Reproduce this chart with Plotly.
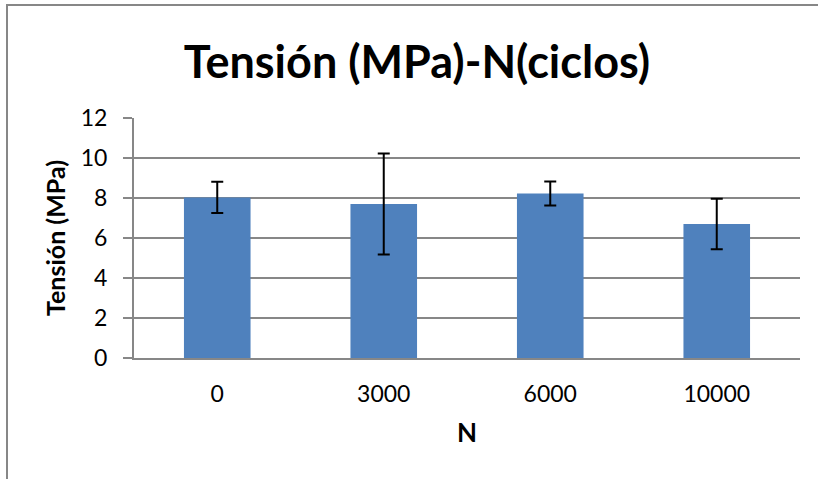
import plotly.graph_objects as go

# Fatigue data: tension vs number of cycles
ciclos = ["0", "3000", "6000", "10000"]
tension = [8.03, 7.70, 8.22, 6.70]
desviacion = [0.78, 2.53, 0.60, 1.26]

W, H = 818, 479
ML, MR, MT, MB = 134, 18, 118, 121
GRAY = "#878787"
FONT = "Lato"

fig = go.Figure(
    go.Bar(
        x=ciclos,
        y=tension,
        marker=dict(color="#4F81BD", line=dict(color="#4F81BD", width=0)),
        error_y=dict(type="data", array=desviacion, visible=True,
                     color="black", thickness=2, width=6),
        width=0.4,
    )
)

fig.update_layout(
    width=W,
    height=H,
    margin=dict(l=ML, r=MR, t=MT, b=MB),
    paper_bgcolor="white",
    plot_bgcolor="white",
    showlegend=False,
    font=dict(family=FONT, color="black"),
    title=dict(
        text="<b>Tensión (MPa)-N(ciclos)</b>",
        font=dict(family=FONT, size=45, color="black"),
        x=417 / W, xref="container", xanchor="center",
        y=1 - 62 / H, yref="container", yanchor="middle",
    ),
    xaxis=dict(
        type="category",
        showline=True, linecolor=GRAY, linewidth=2,
        ticks="", showgrid=False,
        ticklabelstandoff=14,
        tickfont=dict(family=FONT, size=23),
        title=dict(text="<b>N</b>", font=dict(family=FONT, size=26), standoff=18),
    ),
    yaxis=dict(
        range=[0, 12], dtick=2,
        showline=True, linecolor=GRAY, linewidth=2,
        showgrid=True, gridcolor=GRAY, gridwidth=2,
        ticks="outside", ticklen=9, tickcolor=GRAY, tickwidth=2,
        ticklabelstandoff=11,
        tickfont=dict(family=FONT, size=23),
        zeroline=False,
        title=dict(text="<b>Tensión (MPa)</b>", font=dict(family=FONT, size=25), standoff=8),
    ),
)

# Outer chart frame; its right and bottom edges lie beyond the page
pw = W - ML - MR
ph = H - MT - MB
fx = lambda px: (px - ML) / pw
fy = lambda py: 1 - (py - MT) / ph
fig.add_shape(type="rect", xref="paper", yref="paper", layer="below",
              x0=fx(7), x1=fx(W + 20), y0=fy(5), y1=fy(H + 20),
              line=dict(color=GRAY, width=2), fillcolor="rgba(0,0,0,0)")

fig.write_html("out.html", config={"displayModeBar": False})
